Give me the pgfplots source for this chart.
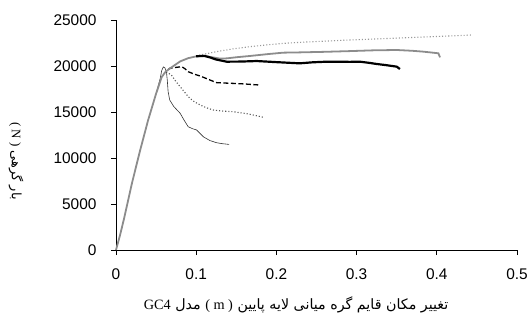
\documentclass[border=0pt]{standalone}
\usepackage{fontspec}
\setmainfont{Liberation Sans}
\newfontfamily\seriffont{Liberation Serif}
\newfontfamily\arabicfont[Script=Arabic]{DejaVu Sans}
\usepackage{pgfplots}
\pgfplotsset{compat=1.18}
\TeXXeTstate=1
\begin{document}
\begin{tikzpicture}
\useasboundingbox (-116bp,-72bp) rectangle (415bp,250bp);
\begin{axis}[
  scale only axis,
  width=401bp, height=230bp,
  xmin=0, xmax=0.5, ymin=0, ymax=25000,
  axis lines=left,
  axis line style={-, black, line width=0.7pt},
  scaled y ticks=false, scaled x ticks=false,
  xtick={0,0.1,0.2,0.3,0.4,0.5},
  xticklabels={0,0.1,0.2,0.3,0.4,0.5},
  ytick={0,5000,10000,15000,20000,25000},
  yticklabels={0,5000,10000,15000,20000,25000},
  tick style={black, line width=0.7pt},
  tick align=outside,
  major tick length=5bp,
  ticklabel style={font=\fontsize{15.5}{18}\selectfont},
  yticklabel style={xshift=-11bp},
  xticklabel style={yshift=-10bp},
  every axis x label/.style={at={(axis description cs:0.449,-0.239)},anchor=center},
  every axis y label/.style={at={(axis description cs:-0.249,0.387)},rotate=-90,anchor=center},
  xlabel={\fontsize{14.3}{16}\selectfont\arabicfont\beginR تغییر مکان قایم گره میانی لایه پایین \beginL{\seriffont( m )}\endL{} مدل {\seriffont GC4}\endR},
  ylabel={\fontsize{13}{15}\selectfont\arabicfont\beginR بار گرهی \beginL{\seriffont( N )}\endL\endR},
  clip=false,
]
% light gray dotted
\addplot[black!40, line width=1.1pt, dotted] coordinates {
(0.1,21050)(0.105,21200)(0.1255,21560)(0.145,21850)(0.167,22100)(0.1886,22300)(0.2086,22460)(0.229,22570)(0.26,22700)(0.292,22830)(0.3126,22900)(0.35,23030)(0.396,23190)(0.42,23280)(0.4435,23370)};
% dark gray dotted
\addplot[black!65, line width=1.1pt, dotted] coordinates {
(0.06,19200)(0.062,19400)(0.069,19020)(0.074,18400)(0.080,17750)(0.086,17100)(0.092,16490)(0.098,16100)(0.105,15760)(0.113,15450)(0.121,15220)(0.133,15100)(0.146,15030)(0.157,14900)(0.167,14750)(0.176,14580)(0.184,14420)};
% thin line
\addplot[black!80, line width=0.6pt] coordinates {
(0.05,17000)(0.055,18600)(0.057,19500)(0.059,19900)(0.061,19800)(0.063,19300)(0.064,18400)(0.065,17200)(0.067,16300)(0.072,15600)(0.080,14860)(0.085,14100)(0.090,13400)(0.095,13200)(0.1006,13040)(0.109,12300)(0.117,11900)(0.1255,11660)(0.133,11550)(0.141,11480)};
% black dashed
\addplot[black, line width=1.3pt, dash pattern=on 5pt off 2.5pt] coordinates {
(0.065,19600)(0.067,19750)(0.075,19850)(0.082,19930)(0.086,19700)(0.090,19380)(0.098,19100)(0.105,18910)(0.111,18700)(0.117,18480)(0.1255,18190)(0.135,18150)(0.146,18110)(0.16,18050)(0.179,17930)};
% gray solid (with common rising branch)
\addplot[black!45, line width=1.8pt] coordinates {
(0,0)(0.005,1600)(0.01,3400)(0.02,7300)(0.03,10800)(0.04,14100)(0.05,17000)(0.057,18800)(0.062,19400)(0.07,19900)(0.08,20500)(0.09,20850)(0.1,21050)(0.11,21100)(0.12,20950)(0.13,20800)(0.138,20830)(0.15,20950)(0.167,21090)(0.19,21300)(0.2086,21450)(0.229,21480)(0.26,21540)(0.292,21620)(0.32,21700)(0.35,21740)(0.37,21650)(0.383,21560)(0.395,21450)(0.402,21380)(0.404,20940)};
% thick black
\addplot[black, line width=2.2pt] coordinates {
(0.1,21060)(0.11,21100)(0.117,20940)(0.125,20700)(0.138,20470)(0.155,20480)(0.1754,20540)(0.2,20420)(0.229,20290)(0.245,20400)(0.263,20470)(0.292,20450)(0.304,20470)(0.315,20350)(0.325,20220)(0.338,20080)(0.350,19930)(0.354,19670)};
\end{axis}
\end{tikzpicture}
\end{document}
